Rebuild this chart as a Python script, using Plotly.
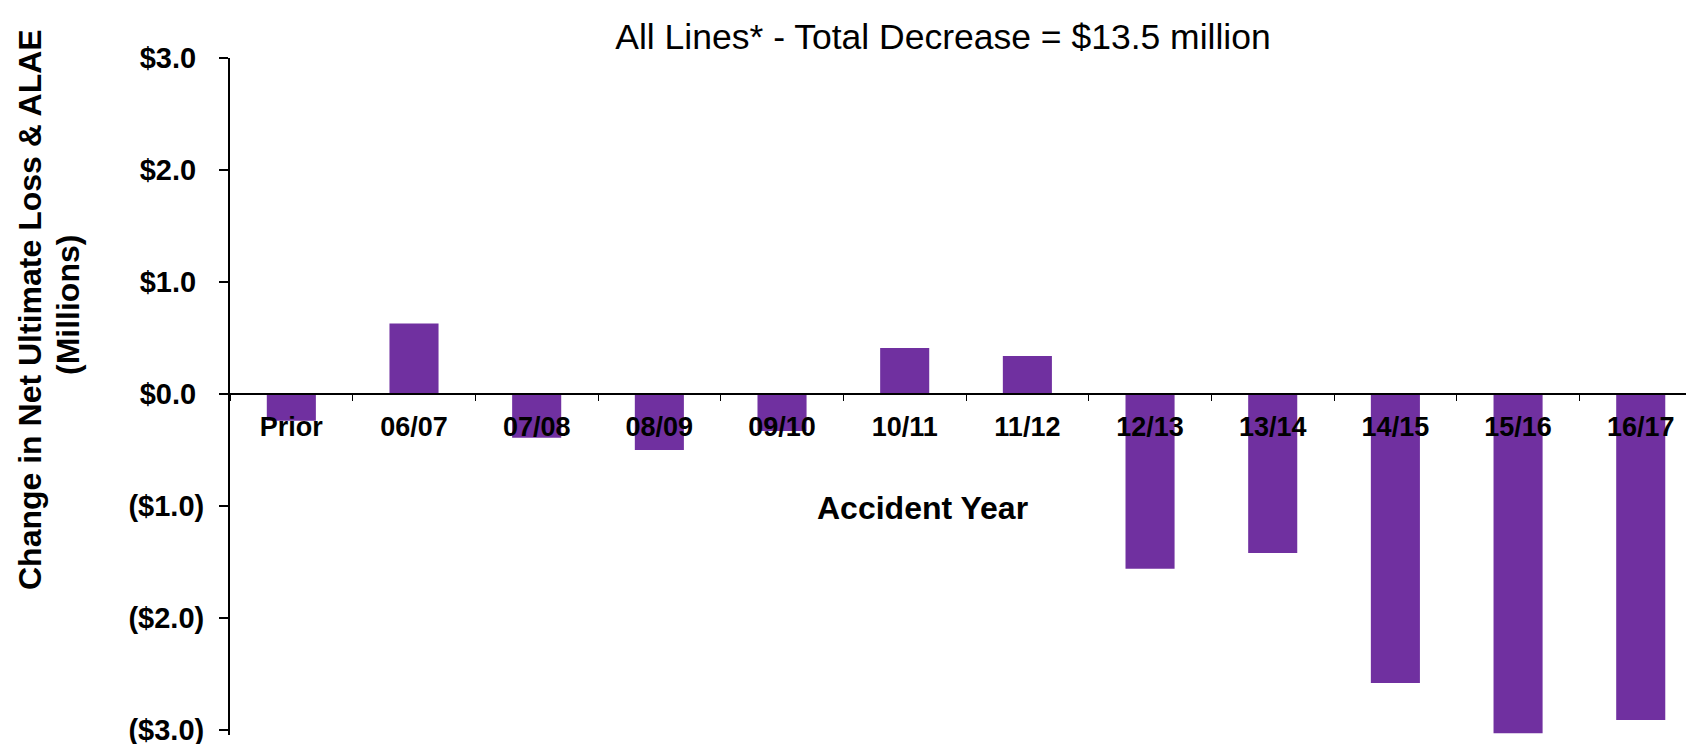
import plotly.graph_objects as go

# ---- data ----
categories = ["Prior", "06/07", "07/08", "08/09", "09/10", "10/11",
              "11/12", "12/13", "13/14", "14/15", "15/16", "16/17"]
values = [-0.24, 0.63, -0.39, -0.50, -0.33, 0.41,
          0.34, -1.56, -1.42, -2.58, -3.03, -2.91]
y_tick_vals = [3, 2, 1, 0, -1, -2, -3]
y_tick_text = ["$3.0\u00a0", "$2.0\u00a0", "$1.0\u00a0", "$0.0\u00a0",
               "($1.0)", "($2.0)", "($3.0)"]
title_text = "All Lines* - Total Decrease = $13.5 million"
x_title = "Accident Year"
y_title_1 = "Change in Net Ultimate Loss & ALAE"
y_title_2 = "(Millions)"

# ---- geometry ----
W, H = 1686, 744
ML, MR, MT, MB = 230, 0, 58, 9
PW, PH = W - ML - MR, H - MT - MB
y_range = [-3.045, 3.0]
x_range = [-0.5, 11.369]
FONT = "Liberation Sans, Arial, sans-serif"
PURPLE = "#7030A0"


def px_x(x):
    return (x - ML) / PW


def px_y(y):
    return (H - MB - y) / PH


zero_pos = (0 - y_range[0]) / (y_range[1] - y_range[0])

fig = go.Figure(
    go.Bar(
        x=categories,
        y=values,
        marker=dict(color=PURPLE, line=dict(width=0)),
        width=0.4,
    )
)

fig.update_layout(
    width=W,
    height=H,
    margin=dict(l=ML, r=MR, t=MT, b=MB, autoexpand=False),
    paper_bgcolor="white",
    plot_bgcolor="white",
    showlegend=False,
    title=dict(
        text=title_text,
        font=dict(family=FONT, size=35.5, color="black"),
        xref="container", yref="container",
        x=943 / W, y=1 - 37 / H,
        xanchor="center", yanchor="middle",
    ),
    xaxis=dict(
        type="category",
        range=x_range,
        anchor="free",
        position=zero_pos,
        showline=True,
        linecolor="black",
        linewidth=1.5,
        ticks="outside",
        tickson="boundaries",
        ticklen=6,
        tickwidth=1,
        tickcolor="black",
        ticklabelstandoff=9,
        tickfont=dict(family=FONT, size=27, color="black", weight="bold"),
        showgrid=False,
        zeroline=False,
    ),
    yaxis=dict(
        range=y_range,
        tickmode="array",
        tickvals=y_tick_vals,
        ticktext=y_tick_text,
        showline=True,
        linecolor="black",
        linewidth=2,
        ticks="outside",
        ticklen=9,
        tickwidth=1.5,
        tickcolor="black",
        ticklabelstandoff=9,
        ticklabeloverflow="allow",
        tickfont=dict(family=FONT, size=29, color="black", weight="bold"),
        showgrid=False,
        zeroline=False,
    ),
    annotations=[
        dict(text=y_title_1, textangle=-90, xref="paper", yref="paper",
             x=px_x(30), y=px_y(309), xanchor="center", yanchor="middle",
             showarrow=False,
             font=dict(family=FONT, size=32, color="black", weight="bold")),
        dict(text=y_title_2, textangle=-90, xref="paper", yref="paper",
             x=px_x(68), y=px_y(305), xanchor="center", yanchor="middle",
             showarrow=False,
             font=dict(family=FONT, size=32, color="black", weight="bold")),
        dict(text=x_title, xref="paper", yref="paper",
             x=px_x(922), y=px_y(508), xanchor="center", yanchor="middle",
             showarrow=False,
             font=dict(family=FONT, size=32, color="black", weight="bold")),
    ],
)

fig.write_html("out.html")
